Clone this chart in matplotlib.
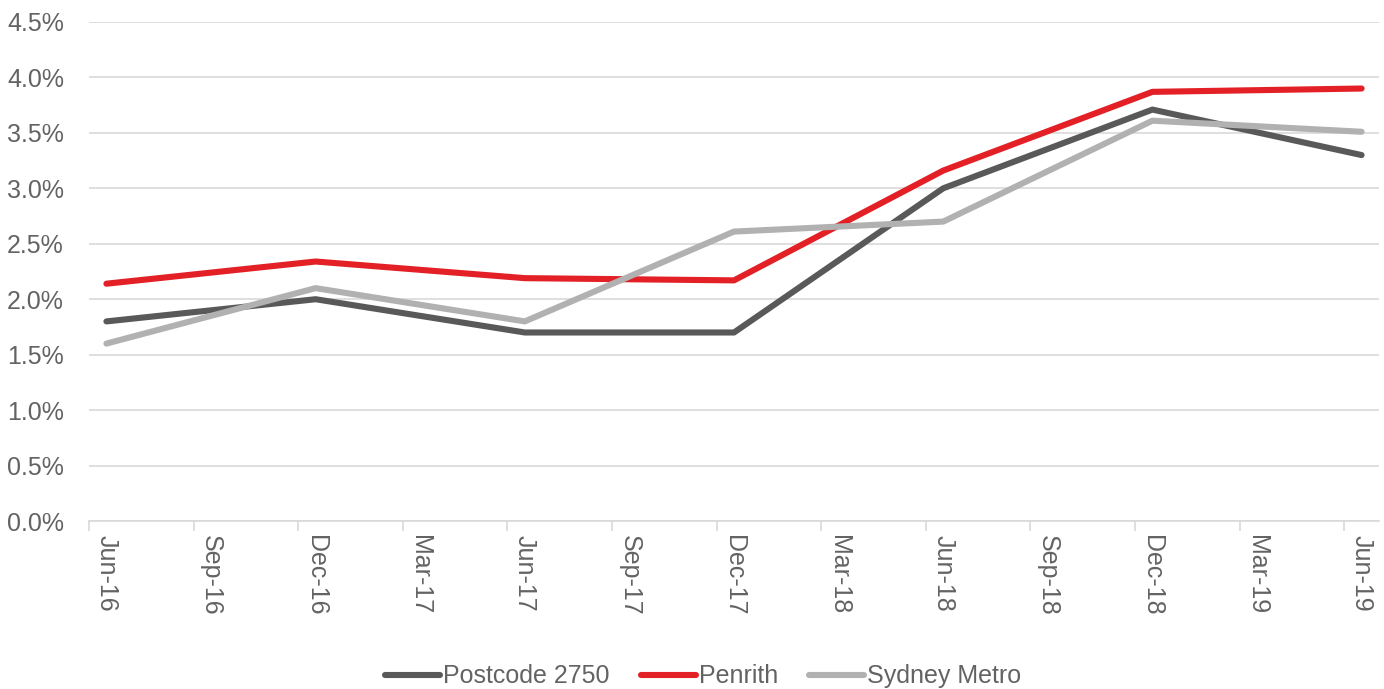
import matplotlib as mpl
mpl.use("agg")
import matplotlib.pyplot as plt
import numpy as np

# quarterly axis labels
quarters = ["Jun-16", "Sep-16", "Dec-16", "Mar-17", "Jun-17", "Sep-17", "Dec-17",
            "Mar-18", "Jun-18", "Sep-18", "Dec-18", "Mar-19", "Jun-19"]
# half-yearly observations
periods = ["Jun-16", "Dec-16", "Jun-17", "Dec-17", "Jun-18", "Dec-18", "Jun-19"]
postcode_2750 = [1.80, 2.00, 1.70, 1.70, 3.00, 3.71, 3.30]  # %
penrith = [2.14, 2.34, 2.19, 2.17, 3.16, 3.87, 3.90]  # %
sydney_metro = [1.60, 2.10, 1.80, 2.61, 2.70, 3.61, 3.51]  # %

series = [
    ("Postcode 2750", postcode_2750, "#595959"),
    ("Penrith", penrith, "#E32026"),
    ("Sydney Metro", sydney_metro, "#B1B1B1"),
]

text_col = "#636363"
grid_col = "#D9D9D9"
fs = 18
plt.rcParams["font.family"] = ["Liberation Sans", "DejaVu Sans"]

fig = plt.figure(figsize=(13.84, 6.89), dpi=100)
ax = fig.add_axes([0.0643, 0.2438, 0.9321, 0.7243])

# month index from Jun-16, points sit mid-month (Excel date axis)
x_tick = np.arange(len(quarters)) * 3
x_pts = np.array([quarters.index(p) * 3 for p in periods]) + 0.5

for name, vals, col in series:
    ax.plot(x_pts, vals, color=col, lw=4.4, solid_capstyle="round",
            solid_joinstyle="round", label=name)

ax.set_xlim(0, 37)
ax.set_ylim(0, 4.5)
ax.set_yticks(np.arange(0, 4.51, 0.5))
ax.set_yticklabels([f"{v:.1f}%" for v in np.arange(0, 4.51, 0.5)])
ax.yaxis.grid(True, color=grid_col, lw=1.2)
ax.set_axisbelow(True)

ax.set_xticks(x_tick)
ax.set_xticklabels([])
ax.set_xticks(x_tick + 0.5, minor=True)
ax.set_xticklabels(quarters, minor=True, rotation=-90, va="top", ha="center")
ax.tick_params(axis="x", which="major", length=7, color=grid_col, width=1.2)
ax.tick_params(axis="x", which="minor", length=0, pad=10, labelsize=fs, labelcolor=text_col)
ax.tick_params(axis="y", length=0, pad=18, labelsize=fs, labelcolor=text_col)

for s in ["top", "right", "left"]:
    ax.spines[s].set_visible(False)
ax.spines["bottom"].set_color(grid_col)
ax.spines["bottom"].set_linewidth(1.2)

leg = fig.legend(loc="center", bbox_to_anchor=(0.508, 0.0185), ncol=3, frameon=False,
                 fontsize=fs, handlelength=2.2, handletextpad=0.12, columnspacing=1.25)
for t in leg.get_texts():
    t.set_color(text_col)

fig.savefig("out.png", dpi=100)
